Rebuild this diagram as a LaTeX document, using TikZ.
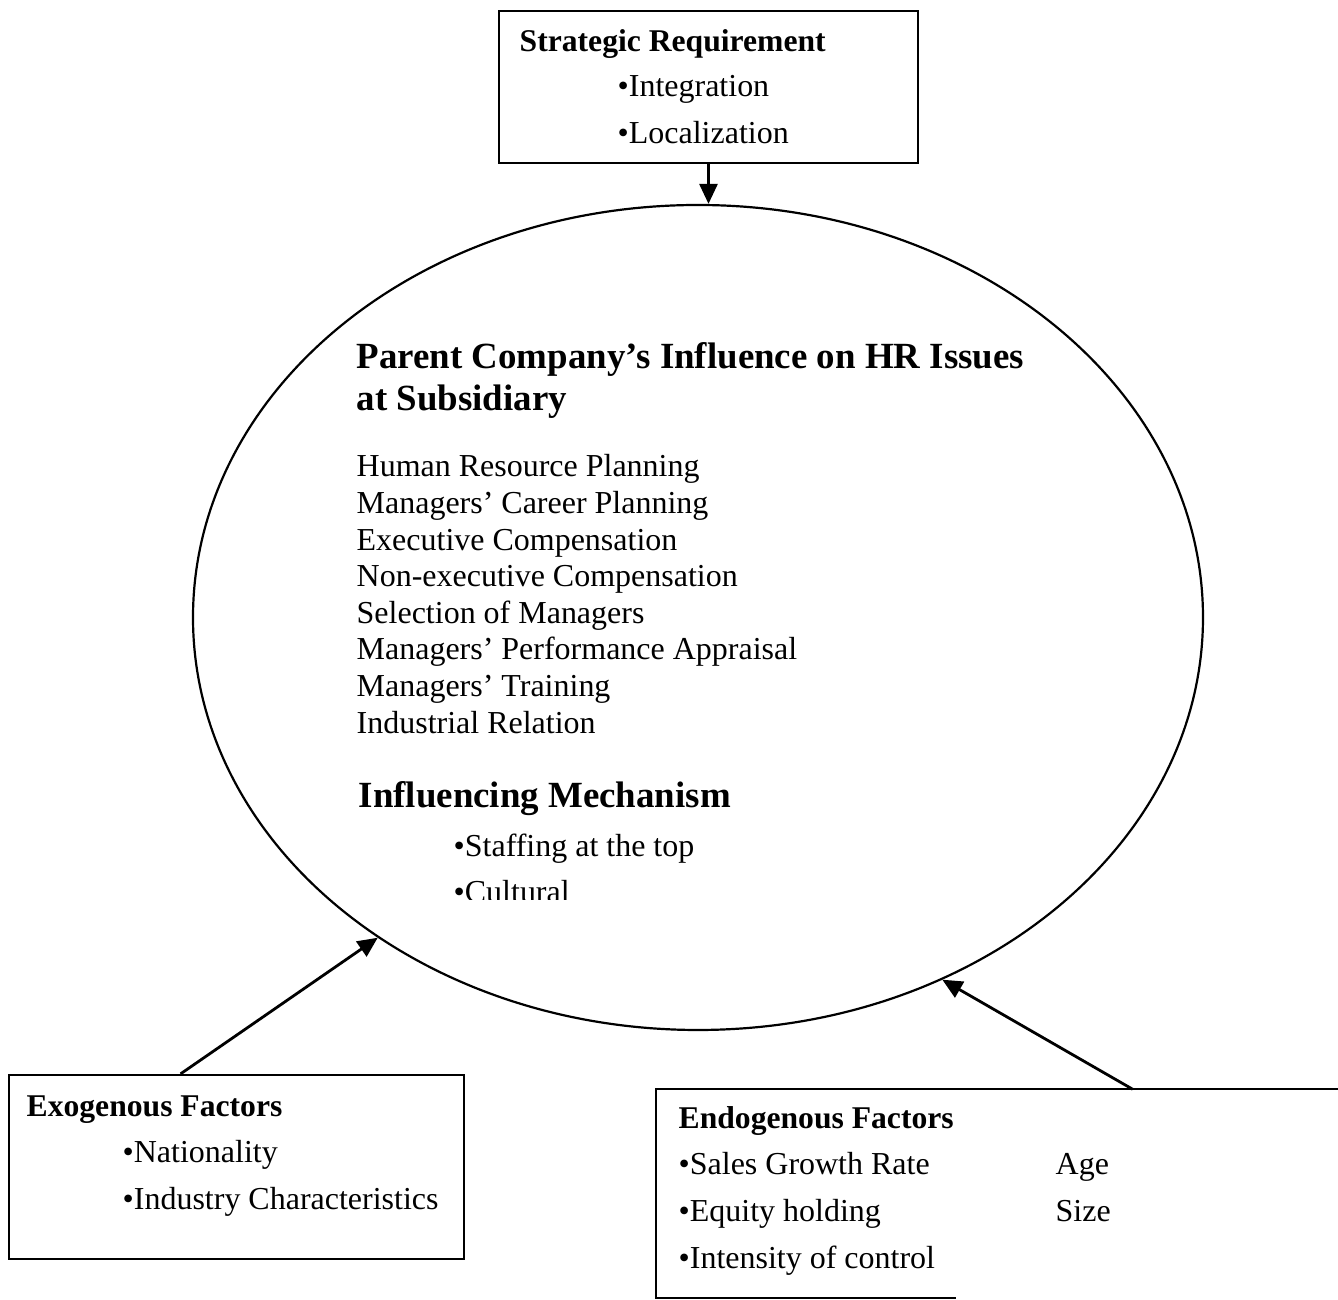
\documentclass[tikz,border=0pt]{standalone}
\usepackage{fontspec}
\setmainfont{Liberation Serif}
\usetikzlibrary{shapes.geometric,arrows.meta}
\tikzset{
  thin line/.style={line width=0.022cm},
  txt/.style={anchor=base west, inner sep=0pt, font=\fontsize{9.1}{11}\selectfont},
  bold txt/.style={txt, font=\fontsize{9.0}{11}\selectfont\bfseries},
  big txt/.style={txt, font=\fontsize{10.5}{12}\selectfont\bfseries},
  link/.style={line width=0.028cm, -{Triangle[length=0.2cm,width=0.18cm]}},
}
\begin{document}
\begin{tikzpicture}
                \useasboundingbox (0,0) rectangle (13.38,-13.00);

                % Drawing box strat
                \node (strat) [draw, thin line, minimum width=4.19cm, minimum height=1.52cm, inner sep=0pt] at (7.085,-0.87) {};

                % Drawing ellipse infl
                \node (infl) [draw, thin line, ellipse, minimum width=10.10cm, minimum height=8.25cm, inner sep=0pt] at (6.98,-6.175) {};

                % Drawing box exo
                \node (exo) [draw, thin line, minimum width=4.55cm, minimum height=1.84cm, inner sep=0pt] at (2.365,-11.67) {};

                % Drawing box endo (runs off the page on the right)
                \node (endo) [minimum width=7.43cm, minimum height=2.07cm, inner sep=0pt] at (10.285,-11.935) {};
                \draw [thin line] (endo.north east) -- (endo.north west) -- (endo.south west) -- ++(3.0,0);

                % Drawing arrows into infl
                \draw [link] (strat.south) -- (strat.south |- infl.north);
                \draw [link] (exo.121.6) -- (infl.225);
                \draw [link] (endo.45) -- (infl.304);

                % Marking text of strat
                \node (stratHead) [bold txt] at (5.19,-0.52) {Strategic Requirement};
                \node (stratA) [txt] at (6.17,-0.97) {•Integration};
                \node (stratB) [txt] at (6.17,-1.44) {•Localization};

                % Marking text of infl
                \node (titleA) [big txt] at (3.56,-3.69) {Parent Company’s Influence on HR Issues};
                \node (titleB) [big txt] at (3.56,-4.11) {at Subsidiary};
                \foreach \issue [count=\i] in {Human Resource Planning, Managers’ Career Planning,
                    Executive Compensation, Non-executive Compensation, Selection of Managers,
                    Managers’ Performance Appraisal, Managers’ Training, Industrial Relation}
                  \node (issue\i) [txt] at (3.56,{-4.77-0.366*(\i-1)}) {\issue};
                \node (mech) [big txt] at (3.58,-8.08) {Influencing Mechanism};
                \node (mechA) [txt] at (4.53,-8.57) {•Staffing at the top};
                \begin{scope}
                  \clip (0,-8.0) rectangle (13.38,-9.00);
                  \node (mechB) [txt] at (4.53,-9.03) {•Cultural};
                \end{scope}

                % Marking text of exo
                \node (exoHead) [bold txt] at (0.26,-11.17) {Exogenous Factors};
                \node (exoA) [txt] at (1.22,-11.63) {•Nationality};
                \node (exoB) [txt] at (1.22,-12.10) {•Industry Characteristics};

                % Marking text of endo
                \node (endoHead) [bold txt] at (6.78,-11.29) {Endogenous Factors};
                \node (endoA) [txt] at (6.78,-11.75) {•Sales Growth Rate};
                \node (endoB) [txt] at (6.78,-12.22) {•Equity holding};
                \node (endoC) [txt] at (6.78,-12.69) {•Intensity of control};
                \node (endoD) [txt] at (10.55,-11.75) {Age};
                \node (endoE) [txt] at (10.55,-12.22) {Size};
\end{tikzpicture}
\end{document}
